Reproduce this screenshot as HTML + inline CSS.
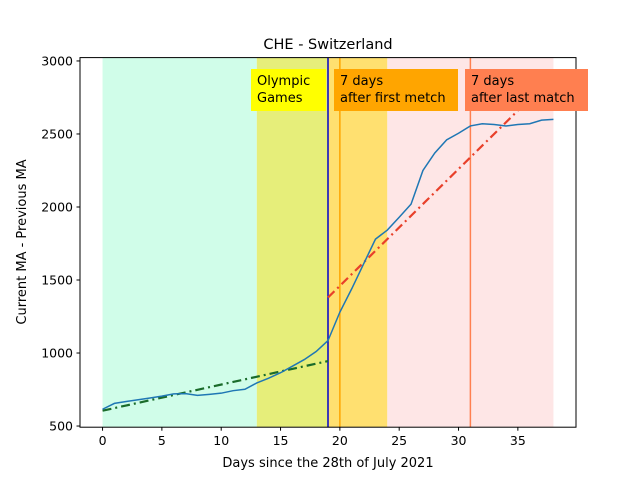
<!DOCTYPE html>
<html><head><meta charset="utf-8"><style>body{margin:0;background:#fff}svg{display:block;font-family:"DejaVu Sans","Liberation Sans",sans-serif}</style></head>
<body>
<svg id="chart" width="640" height="480">
<rect width="640" height="480" fill="#fff"/>
<g id="spans"></g>
<g id="lines"></g>
<g id="ticks"></g>
<rect x="80" y="57.6" width="496" height="369.6" fill="none" stroke="#000" stroke-width="1"/>
<g font-size="13">
<rect x="251" y="69" width="75" height="42" fill="#ffff00"/>
<text x="257" y="85">Olympic</text>
<text x="257" y="102">Games</text>
<rect x="334" y="69" width="124" height="42" fill="#ffa500"/>
<text x="340" y="85">7 days</text>
<text x="340" y="102">after first metch</text>
<rect x="465" y="69" width="123" height="42" fill="#ff7f50"/>
<text x="471" y="85">7 days</text>
<text x="471" y="102">after last match</text>
</g>
<text x="328" y="49" text-anchor="middle" font-size="14.5">CHE - Switzerland</text>
<text x="328" y="467" text-anchor="middle" font-size="13">Days since the 28th of July 2021</text>
<text transform="translate(26,242) rotate(-90)" text-anchor="middle" font-size="13">Current MA - Previous MA</text>
</svg>
<script>
const days=[0,1,2,3,4,5,6,7,8,9,10,11,12,13,14,15,16,17,18,19,20,21,22,23,24,25,26,27,28,29,30,31,32,33,34,35,36,37,38];
const values=[615,655,668,680,692,705,720,722,710,717,725,742,752,795,828,865,910,955,1010,1085,1280,1440,1610,1780,1842,1930,2020,2250,2370,2460,2505,2555,2570,2565,2555,2565,2570,2595,2600];
const trendBefore=[[0,605],[19,945]];
const trendAfter=[[19,1380],[35,2660]];
const xTicks=[0,5,10,15,20,25,30,35];
const yTicks=[500,1000,1500,2000,2500,3000];
const spans=[[0,13,'#d0fde9'],[13,19,'#e6ee7a'],[19,24,'#ffe070'],[24,38,'#fee6e6']];
const vlines=[[19,'#0000cc'],[20,'#ffa500'],[31,'#ff7f50']];
const X=d=>80+(d+1.9)/41.8*496;
const Y=v=>427.2-(v-492)/(3023-492)*369.6;
const NS='http://www.w3.org/2000/svg';
function mk(tag,attrs,parent){const e=document.createElementNS(NS,tag);for(const k in attrs)e.setAttribute(k,attrs[k]);document.getElementById(parent).appendChild(e);return e;}
spans.forEach((s,i)=>{const r=mk('rect',{x:X(s[0]),y:57.6,width:X(s[1])-X(s[0]),height:369.6,fill:s[2]},'spans');

});
vlines.forEach(v=>{const l=mk('line',{x1:X(v[0]),x2:X(v[0]),y1:57.6,y2:427.2,stroke:v[1],'stroke-width':1.5},'lines');

});
const t1=mk('line',{x1:X(trendBefore[0][0]),y1:Y(trendBefore[0][1]),x2:X(trendBefore[1][0]),y2:Y(trendBefore[1][1]),stroke:'#1a6b2a','stroke-width':2.2,'stroke-dasharray':'9,4,2,4'},'lines');


const t2=mk('line',{x1:X(trendAfter[0][0]),y1:Y(trendAfter[0][1]),x2:X(trendAfter[1][0]),y2:Y(trendAfter[1][1]),stroke:'#e8402a','stroke-width':2.2,'stroke-dasharray':'9,4,2,4'},'lines');


const p=mk('polyline',{points:days.map((d,i)=>X(d)+','+Y(values[i])).join(' '),fill:'none',stroke:'#1f77b4','stroke-width':1.5},'lines');


xTicks.forEach(t=>{mk('line',{x1:X(t),x2:X(t),y1:427.2,y2:430.7,stroke:'#000'},'ticks');
const tx=mk('text',{x:X(t),y:445,'text-anchor':'middle','font-size':12.5},'ticks');tx.textContent=t;

});
yTicks.forEach(t=>{mk('line',{x1:76.5,x2:80,y1:Y(t),y2:Y(t),stroke:'#000'},'ticks');
const tx=mk('text',{x:73,y:Y(t)+4.5,'text-anchor':'end','font-size':12.5},'ticks');tx.textContent=t;

});
</script>
</body></html>
